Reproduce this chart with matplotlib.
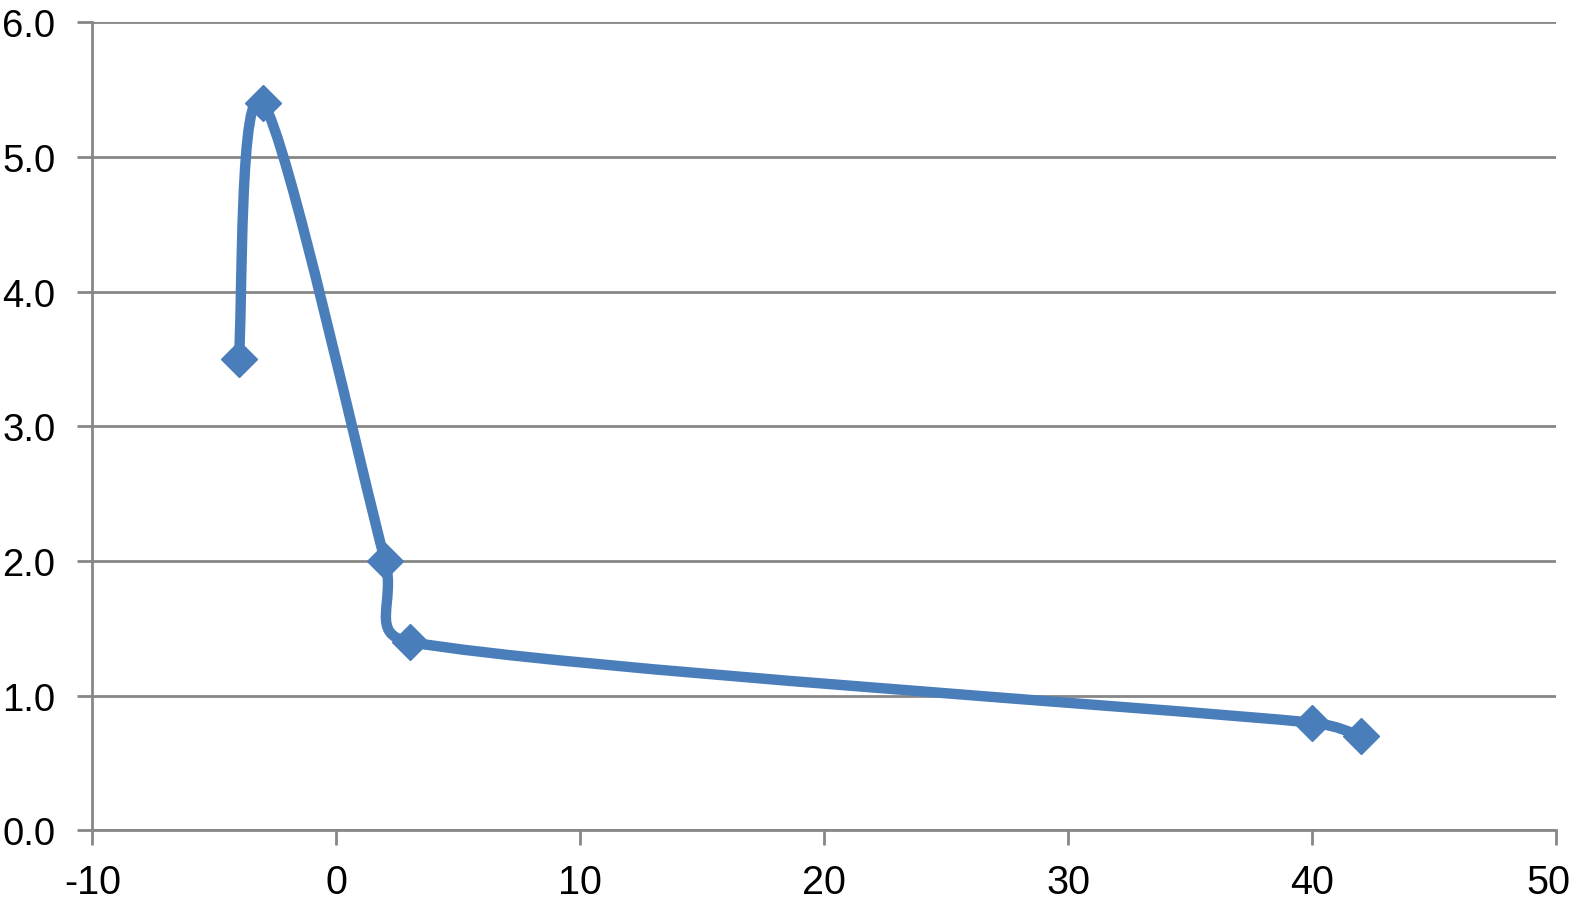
import numpy as np
import matplotlib
matplotlib.use("Agg")
import matplotlib.pyplot as plt
import matplotlib.transforms as mtransforms
from matplotlib.path import Path
from matplotlib.patches import PathPatch

# data
x_vals = [-4, -3, 2, 3, 40, 42]
y_vals = [3.5, 5.4, 2.0, 1.4, 0.8, 0.7]
x_ticks = [-10, 0, 10, 20, 30, 40, 50]
y_ticks = [0.0, 1.0, 2.0, 3.0, 4.0, 5.0, 6.0]

blue = '#4a7ebb'
grey = '#878787'

plt.rcParams['font.family'] = ['Liberation Sans', 'DejaVu Sans']

fig = plt.figure(figsize=(15.73, 9.03), dpi=100)
ax = fig.add_axes([0.0587, 0.0792, 0.9308, 0.895])
ax.set_xlim(-10, 50)
ax.set_ylim(0, 6)


def smooth_path(ax, xs, ys):
    # excel-like smoothed line: bezier segments, handles built in screen space
    pts = ax.transData.transform(np.column_stack([xs, ys]))
    n = len(pts)
    verts = [pts[0]]
    codes = [Path.MOVETO]
    for i in range(n - 1):
        p0 = pts[max(i - 1, 0)]
        p1 = pts[i]
        p2 = pts[i + 1]
        p3 = pts[min(i + 2, n - 1)]
        seg = np.hypot(*(p2 - p1))
        t1 = p2 - p0
        t2 = p3 - p1
        l1 = min(np.hypot(*t1) / 6, seg / 2)
        l2 = min(np.hypot(*t2) / 6, seg / 2)
        c1 = p1 + t1 / np.hypot(*t1) * l1
        c2 = p2 - t2 / np.hypot(*t2) * l2
        verts += [c1, c2, p2]
        codes += [Path.CURVE4] * 3
    verts = ax.transData.inverted().transform(np.array(verts))
    return Path(verts, codes)


ax.add_patch(PathPatch(smooth_path(ax, x_vals, y_vals), facecolor='none',
                       edgecolor=blue, lw=7.5, capstyle='round',
                       joinstyle='round', zorder=3))
ax.plot(x_vals, y_vals, linestyle='none', marker='D', markersize=18,
        markeredgewidth=1, color=blue, zorder=4)

ax.set_xticks(x_ticks)
ax.set_xticklabels([str(t) for t in x_ticks])
ax.set_yticks(y_ticks)
ax.set_yticklabels([f'{t:.1f}' for t in y_ticks])
ax.yaxis.grid(True, color=grey, lw=2)
ax.set_axisbelow(True)

for s in ['top', 'right']:
    ax.spines[s].set_visible(False)
for s in ['left', 'bottom']:
    ax.spines[s].set_color(grey)
    ax.spines[s].set_linewidth(2)

ax.tick_params(axis='both', colors=grey, width=2, length=10.5,
               labelcolor='black')
ax.tick_params(axis='y', pad=16, labelsize=27.5)
ax.tick_params(axis='x', pad=13, labelsize=28.5)

# last x label sits flush with the right edge like in the original
last = ax.get_xticklabels()[-1]
last.set_horizontalalignment('right')
last.set_transform(last.get_transform() +
                   mtransforms.ScaledTranslation(14 / 100, 0, fig.dpi_scale_trans))

fig.savefig('out.png', dpi=100)
